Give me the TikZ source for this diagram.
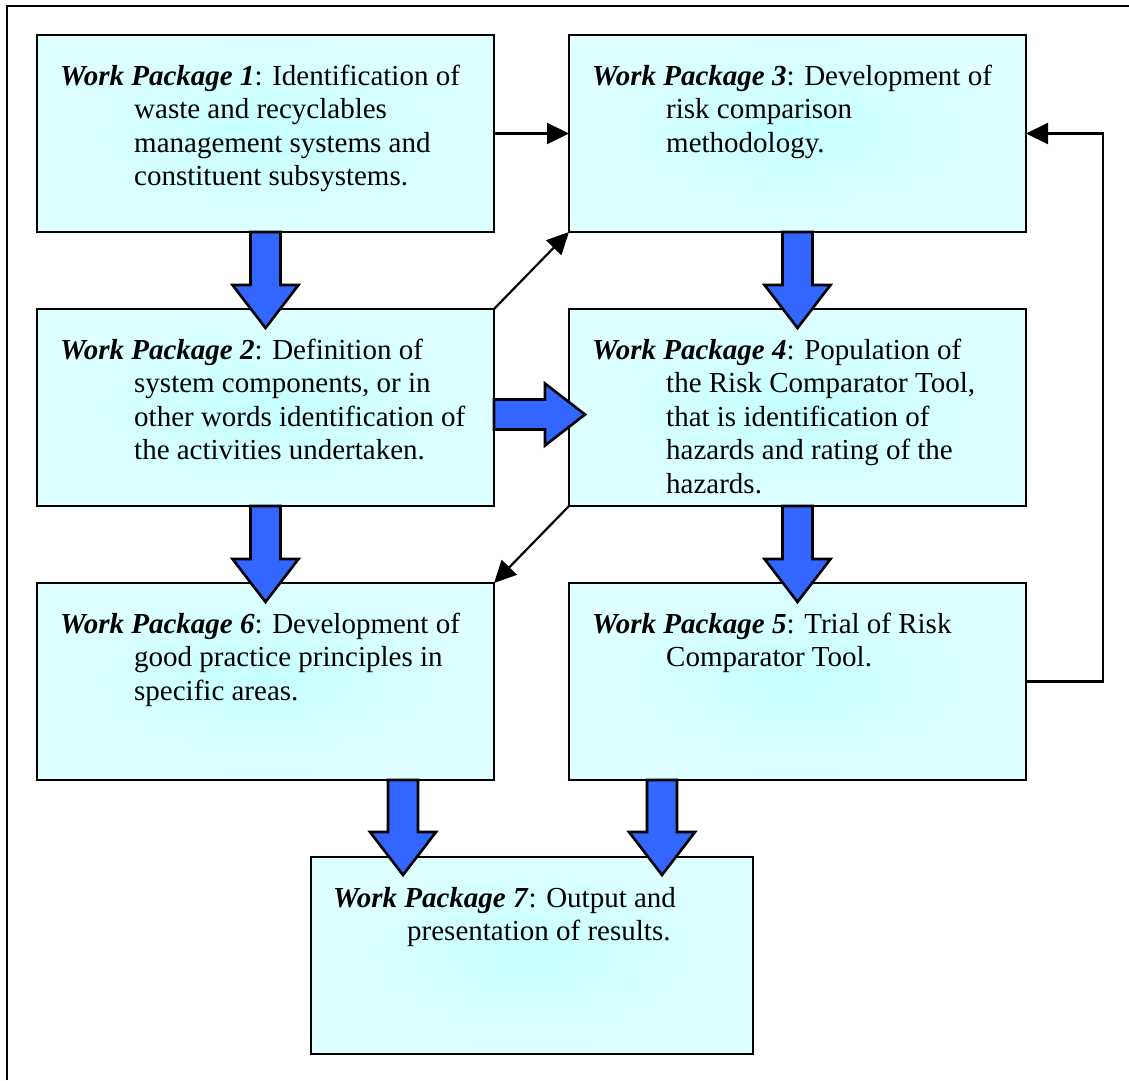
\documentclass[tikz,border=0pt]{standalone}
\usepackage{fontspec}
\setmainfont{Liberation Serif}
\usetikzlibrary{arrows.meta,calc}

\definecolor{boxedge}{RGB}{222,255,255}
\definecolor{boxmid}{RGB}{198,255,255}
\definecolor{flowblue}{RGB}{51,102,255}

% package title, hanging indent of the following lines
\newcommand\wpname[1]{\textbf{\textit{Work Package #1}}}
\newcommand\cont{\hspace*{74pt}}

% broad flow arrows: #1 gives where the shaft starts, #2 the tip
\newcommand\vblock[2]{%
  \draw[blockarrow] let \p1=(#1), \p2=(#2) in
    (\x2-15pt,\y1) -- (\x2-15pt,\y2+43pt) -- (\x2-33pt,\y2+43pt) -- (\x2,\y2)
    -- (\x2+33pt,\y2+43pt) -- (\x2+15pt,\y2+43pt) -- (\x2+15pt,\y1) -- cycle;}
\newcommand\hblock[2]{%
  \draw[blockarrow] let \p1=(#1), \p2=(#2) in
    (\x1,\y2+15pt) -- (\x2-40pt,\y2+15pt) -- (\x2-40pt,\y2+31pt) -- (\x2,\y2)
    -- (\x2-40pt,\y2-31pt) -- (\x2-40pt,\y2-15pt) -- (\x1,\y2-15pt) -- cycle;}

\begin{document}
\begin{tikzpicture}[x=1pt,y=-1pt,
  wpbox/.style={rectangle, draw=black, line width=2.6pt, inner sep=0pt, outer sep=0pt,
    inner color=boxmid, outer color=boxedge, anchor=north west,
    minimum width=457pt, minimum height=197pt},
  wptext/.style={anchor=base west, inner sep=0pt, font=\fontsize{29}{33.5}\selectfont},
  conn/.style={draw=black, line width=2.2pt, -{Triangle[length=22pt,width=21pt]}},
  blockarrow/.style={draw=black, line width=2.6pt, fill=flowblue, line join=miter}]

\useasboundingbox (0,0) rectangle (1129,1080);

% page frame
\draw[line width=2.6pt] (7,1080) -- (7,6) -- (1129,6);

% work package boxes
\node[wpbox] (b1) at (37,35) {};
\node[wpbox] (b3) at (569,35) {};
\node[wpbox] (b2) at (37,309) {};
\node[wpbox] (b4) at (569,309) {};
\node[wpbox] (b6) at (37,583) {};
\node[wpbox] (b5) at (569,583) {};
\node[wpbox, minimum width=442pt] (b7) at (311,857) {};

% box texts
\node[wptext] (t1) at ($(b1.north west)+(23,50)$) {\begin{tabular}[t]{@{}l@{}}
  \wpname{1}: Identification of\\
  \cont waste and recyclables\\
  \cont management systems and\\
  \cont constituent subsystems.\end{tabular}};
\node[wptext] (t2) at ($(b2.north west)+(23,50)$) {\begin{tabular}[t]{@{}l@{}}
  \wpname{2}: Definition of\\
  \cont system components, or in\\
  \cont other words identification of\\
  \cont the activities undertaken.\end{tabular}};
\node[wptext] (t3) at ($(b3.north west)+(23,50)$) {\begin{tabular}[t]{@{}l@{}}
  \wpname{3}: Development of\\
  \cont risk comparison\\
  \cont methodology.\end{tabular}};
\node[wptext] (t4) at ($(b4.north west)+(23,50)$) {\begin{tabular}[t]{@{}l@{}}
  \wpname{4}: Population of\\
  \cont the Risk Comparator Tool,\\
  \cont that is identification of\\
  \cont hazards and rating of the\\
  \cont hazards.\end{tabular}};
\node[wptext] (t5) at ($(b5.north west)+(23,50)$) {\begin{tabular}[t]{@{}l@{}}
  \wpname{5}: Trial of Risk\\
  \cont Comparator Tool.\end{tabular}};
\node[wptext] (t6) at ($(b6.north west)+(23,50)$) {\begin{tabular}[t]{@{}l@{}}
  \wpname{6}: Development of\\
  \cont good practice principles in\\
  \cont specific areas.\end{tabular}};
\node[wptext] (t7) at ($(b7.north west)+(22,50)$) {\begin{tabular}[t]{@{}l@{}}
  \wpname{7}: Output and\\
  \cont presentation of results.\end{tabular}};

% thin connectors
\draw[conn] (b1.east) -- (b3.west);
\draw[conn] (b2.north east) -- (b3.south west);
\draw[conn] (b4.south west) -- (b6.north east);
\coordinate (loopx) at (1103,0);
\draw[conn] (b5.east) -- (b5.east -| loopx) -- (b3.east -| loopx) -- (b3.east);

% broad flow arrows
\vblock{b1.south}{$(b2.north)+(0,19)$}
\vblock{b2.south}{$(b6.north)+(0,19)$}
\vblock{b3.south}{$(b4.north)+(0,19)$}
\vblock{b4.south}{$(b5.north)+(0,19)$}
\vblock{b6.south}{$(b7.north)+(-129,18)$}
\vblock{b5.south}{$(b7.north)+(130,18)$}
\hblock{b2.east}{$(b4.west)+(16,7)$}
\end{tikzpicture}
\end{document}
